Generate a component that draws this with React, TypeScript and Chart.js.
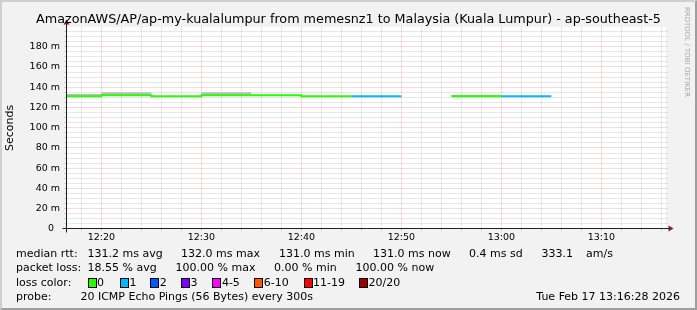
import { useEffect, useRef } from 'react';
import { Chart, registerables } from 'chart.js';

Chart.register(...registerables);

// ---------- data ----------
const TITLE = 'AmazonAWS/AP/ap-my-kualalumpur from memesnz1 to Malaysia (Kuala Lumpur) - ap-southeast-5';
const Y_TITLE = 'Seconds';
const WATERMARK = 'RRDTOOL / TOBI OETIKER';

// time in minutes after 12:00
const X_MIN = 16 + 28 / 60; // 12:16:28
const X_MAX = 76 + 28 / 60; // 13:16:28
const X_TICKS = [20, 30, 40, 50, 60, 70];
const X_TICK_LABELS = ['12:20', '12:30', '12:40', '12:50', '13:00', '13:10'];
const X_MINOR_STEP = 2;

const Y_MAX = 199.5;
const Y_TICKS = [0, 20, 40, 60, 80, 100, 120, 140, 160, 180];
const Y_TICK_LABELS = ['0  ', '20 m', '40 m', '60 m', '80 m', '100 m', '120 m', '140 m', '160 m', '180 m'];
const Y_MINOR_STEP = 5;

const STEP_MIN = 5; // 300 s
const BIN_END = [20, 25, 30, 35, 40, 45, 50, 55, 60, 65, 70, 75, 80];
const MEDIAN = [131, 132, 131, 132, 132, 131, 131, null, 131, 131, null, null, null];
const LOSS = [0, 0, 0, 0, 0, 0, 1, 20, 0, 1, 20, 20, 20];
const SMOKE_LO = [131, 132, 131, 132, 132, 131, 131, null, 131, 131, null, null, null];
const SMOKE_HI = [133.3, 135, 131.4, 135, 132.6, 131.3, 131.3, null, 132.6, 131.3, null, null, null];

const LOSS_LABELS = ['0', '1', '2', '3', '4-5', '6-10', '11-19', '20/20'];
const LOSS_COLORS = ['#26ff00', '#00b8ff', '#0059ff', '#7e00ff', '#ff00ff', '#ff5500', '#ff0000', '#a10000'];
const LOSS_BOX_X = [87.6, 120, 150.2, 180.9, 212.4, 254.2, 303.6, 359];

const ROW1 = [
  ['median rtt:', 16], ['131.2 ms avg', 87.6], ['132.0 ms max', 181], ['131.0 ms min', 279],
  ['131.0 ms now', 373], ['0.4 ms sd', 469], ['333.1', 541.5], ['am/s', 586],
] as const;
const ROW2 = [
  ['packet loss:', 16], ['18.55 % avg', 87.6], ['100.00 % max', 175.6], ['0.00 % min', 274], ['100.00 % now', 355.6],
] as const;
const PROBE_LABEL = 'probe:';
const PROBE_TEXT = '20 ICMP Echo Pings (56 Bytes) every 300s';
const DATE_TEXT = 'Tue Feb 17 13:16:28 2026';

// ---------- helpers ----------
function bucket(l: number) {
  if (l <= 3) return l;
  if (l <= 5) return 4;
  if (l <= 10) return 5;
  if (l <= 19) return 6;
  return 7;
}

function segPoints(values: (number | null)[], include: (i: number) => boolean) {
  const pts: { x: number; y: number | null }[] = [];
  BIN_END.forEach((e, i) => {
    const v = values[i];
    const s = e - STEP_MIN;
    if (v == null || !include(i)) {
      pts.push({ x: s, y: null });
      return;
    }
    pts.push({ x: s, y: v }, { x: e, y: v });
  });
  return pts;
}

const FONT = '"DejaVu Sans", "Liberation Sans", sans-serif';
const GRID = 'rgba(143,143,143,0.42)';
const MGRID = 'rgba(222,79,79,0.42)';
const AXIS = 'rgb(31,31,31)';
const ARROW = 'rgb(128,31,31)';

const rrdPlugin = {
  id: 'rrd',
  beforeDraw(chart: any) {
    const { ctx, chartArea: a, scales } = chart;
    const x = scales.x;
    const y = scales.y;
    ctx.save();
    ctx.fillStyle = '#ffffff';
    ctx.fillRect(a.left, a.top, a.right - a.left, a.bottom - a.top);
    ctx.lineWidth = 1;
    const sx = (v: number) => Math.floor(x.getPixelForValue(v)) + 0.5;
    const sy = (v: number) => Math.ceil(y.getPixelForValue(v)) - 0.5;
    const L = Math.floor(a.left) + 0.5;
    const R = Math.floor(a.right) + 0.5;
    const T = Math.ceil(a.top) - 0.5;
    const B = Math.ceil(a.bottom) - 0.5;
    const line = (x1: number, y1: number, x2: number, y2: number, c: string, dash: number[]) => {
      ctx.strokeStyle = c;
      ctx.setLineDash(dash);
      ctx.beginPath();
      ctx.moveTo(x1, y1);
      ctx.lineTo(x2, y2);
      ctx.stroke();
    };
    // horizontal grid
    for (let v = Y_MINOR_STEP; v < Y_MAX; v += Y_MINOR_STEP) {
      const major = Y_TICKS.includes(v);
      const c = major ? MGRID : GRID;
      const py = sy(v);
      line(L - 2, py, L, py, c, []);
      line(R, py, R + 1, py, c, []);
      line(L, py, R, py, c, [1, 1]);
    }
    // vertical grid
    const start = Math.ceil(X_MIN / X_MINOR_STEP) * X_MINOR_STEP;
    for (let v = start; v < X_MAX; v += X_MINOR_STEP) {
      const major = X_TICKS.includes(v);
      const c = major ? MGRID : GRID;
      const px = sx(v);
      line(px, B, px, B + 2, c, []);
      line(px, T, px, B, c, [1, 1]);
    }
    ctx.restore();
  },
  afterDatasetsDraw(chart: any) {
    const { ctx, chartArea: a } = chart;
    const L = Math.floor(a.left) + 0.5;
    const R = Math.floor(a.right) + 0.5;
    const T = Math.ceil(a.top) - 0.5;
    const B = Math.ceil(a.bottom) - 0.5;
    ctx.save();
    ctx.lineWidth = 1;
    ctx.setLineDash([]);
    ctx.strokeStyle = AXIS;
    ctx.beginPath();
    ctx.moveTo(L - 4, B);
    ctx.lineTo(R + 4, B);
    ctx.moveTo(L, B + 4);
    ctx.lineTo(L, T - 4);
    ctx.stroke();
    ctx.fillStyle = ARROW;
    ctx.beginPath();
    ctx.moveTo(R + 2, B - 3);
    ctx.lineTo(R + 2, B + 3);
    ctx.lineTo(R + 7, B);
    ctx.closePath();
    ctx.fill();
    ctx.beginPath();
    ctx.moveTo(L - 3, T - 2);
    ctx.lineTo(L + 3, T - 2);
    ctx.lineTo(L, T - 7);
    ctx.closePath();
    ctx.fill();
    ctx.restore();
  },
};

export default function App() {
  const ref = useRef<HTMLCanvasElement>(null);
  useEffect(() => {
    document.body.style.margin = '0';
    const lineSets = LOSS_COLORS.map((col, k) => ({
      type: 'line' as const,
      data: segPoints(MEDIAN, (i) => bucket(LOSS[i]) === k),
      borderColor: col,
      backgroundColor: col,
      borderWidth: 2,
      pointRadius: 0,
      fill: false,
      spanGaps: false,
      clip: 0,
      order: 1,
    }));
    const chart = new Chart(ref.current as HTMLCanvasElement, {
      type: 'line',
      data: {
        datasets: [
          {
            data: segPoints(SMOKE_LO, () => true),
            borderColor: 'rgba(0,0,0,0)',
            borderWidth: 0,
            pointRadius: 0,
            fill: false,
            spanGaps: false,
            clip: 0,
            order: 3,
          },
          {
            data: segPoints(SMOKE_HI, () => true),
            borderColor: 'rgba(0,0,0,0)',
            backgroundColor: '#bdbdbd',
            borderWidth: 0,
            pointRadius: 0,
            fill: '-1',
            spanGaps: false,
            clip: 0,
            order: 2,
          },
          ...lineSets,
        ] as any,
      },
      options: {
        animation: false,
        responsive: false,
        maintainAspectRatio: false,
        events: [],
        layout: { padding: { left: 0, top: 27, right: 31, bottom: 63 } },
        plugins: { legend: { display: false }, tooltip: { enabled: false }, title: { display: false } },
        scales: {
          x: {
            type: 'linear',
            min: X_MIN,
            max: X_MAX,
            grid: { display: false, drawTicks: false, tickLength: 0 },
            border: { display: false },
            afterBuildTicks: (s: any) => {
              s.ticks = X_TICKS.map((v) => ({ value: v }));
            },
            afterFit: (s: any) => {
              s.height = 18;
            },
            ticks: {
              callback: (v: any) => X_TICK_LABELS[X_TICKS.indexOf(Number(v))],
              font: { family: FONT, size: 9.5 },
              color: '#000',
              padding: 3,
              maxRotation: 0,
              autoSkip: false,
            },
          },
          y: {
            type: 'linear',
            min: 0,
            max: Y_MAX,
            grid: { display: false, drawTicks: false, tickLength: 0 },
            border: { display: false },
            title: {
              display: true,
              text: Y_TITLE,
              font: { family: FONT, size: 11 },
              color: '#000',
              padding: { top: 4, bottom: 0 },
            },
            afterBuildTicks: (s: any) => {
              s.ticks = Y_TICKS.map((v) => ({ value: v }));
            },
            afterFit: (s: any) => {
              s.width = 66;
            },
            ticks: {
              callback: (v: any) => Y_TICK_LABELS[Y_TICKS.indexOf(Number(v))],
              font: { family: FONT, size: 9.5 },
              color: '#000',
              padding: 6,
              autoSkip: false,
            },
          },
        },
      },
      plugins: [rrdPlugin],
    } as any);
    return () => chart.destroy();
  }, []);

  const text = (s: string, left: number, top: number, extra: any = {}) => (
    <div
      key={s + left + top}
      style={{ position: 'absolute', left, top, fontSize: 11, lineHeight: '13px', whiteSpace: 'pre', ...extra }}
    >
      {s}
    </div>
  );
  const r1 = 247;
  const r2 = 261;
  const r3 = 275.5;
  const r4 = 290;

  return (
    <div
      style={{
        position: 'fixed',
        left: 0,
        top: 0,
        width: 697,
        height: 310,
        background: '#f2f2f2',
        overflow: 'hidden',
        fontFamily: FONT,
        color: '#000',
      }}
    >
      <canvas ref={ref} width={697} height={310} style={{ position: 'absolute', left: 0, top: 0 }} />
      <div
        style={{
          position: 'absolute',
          left: 0,
          top: 11,
          width: 697,
          textAlign: 'center',
          fontSize: 12.75,
          lineHeight: '15px',
          whiteSpace: 'nowrap',
        }}
      >
        {TITLE}
      </div>
      <div
        style={{
          position: 'absolute',
          left: 637,
          top: 48,
          width: 100,
          height: 8,
          textAlign: 'center',
          fontSize: 7,
          lineHeight: '8px',
          color: '#a8a8a8',
          whiteSpace: 'nowrap',
          transform: 'rotate(90deg)',
        }}
      >
        {WATERMARK}
      </div>
      {ROW1.map(([s, x]) => text(s, x, r1))}
      {ROW2.map(([s, x]) => text(s, x, r2))}
      {text('loss color:', 16, r3)}
      {LOSS_LABELS.map((lab, i) => (
        <div key={lab}>
          <div
            style={{
              position: 'absolute',
              left: LOSS_BOX_X[i],
              top: r3 + 2,
              width: 7,
              height: 8,
              border: '1px solid #000',
              background: LOSS_COLORS[i],
            }}
          />
          {text(lab, LOSS_BOX_X[i] + 9.5, r3)}
        </div>
      ))}
      {text(PROBE_LABEL, 16, r4)}
      {text(PROBE_TEXT, 80.4, r4)}
      <div
        style={{
          position: 'absolute',
          right: 17,
          top: r4,
          fontSize: 11,
          lineHeight: '13px',
          whiteSpace: 'pre',
        }}
      >
        {DATE_TEXT}
      </div>
      <div
        style={{
          position: 'absolute',
          left: 0,
          top: 0,
          width: 697,
          height: 310,
          boxSizing: 'border-box',
          borderStyle: 'solid',
          borderWidth: 2,
          borderColor: '#cfcfcf #9e9e9e #9e9e9e #cfcfcf',
          pointerEvents: 'none',
        }}
      />
    </div>
  );
}
